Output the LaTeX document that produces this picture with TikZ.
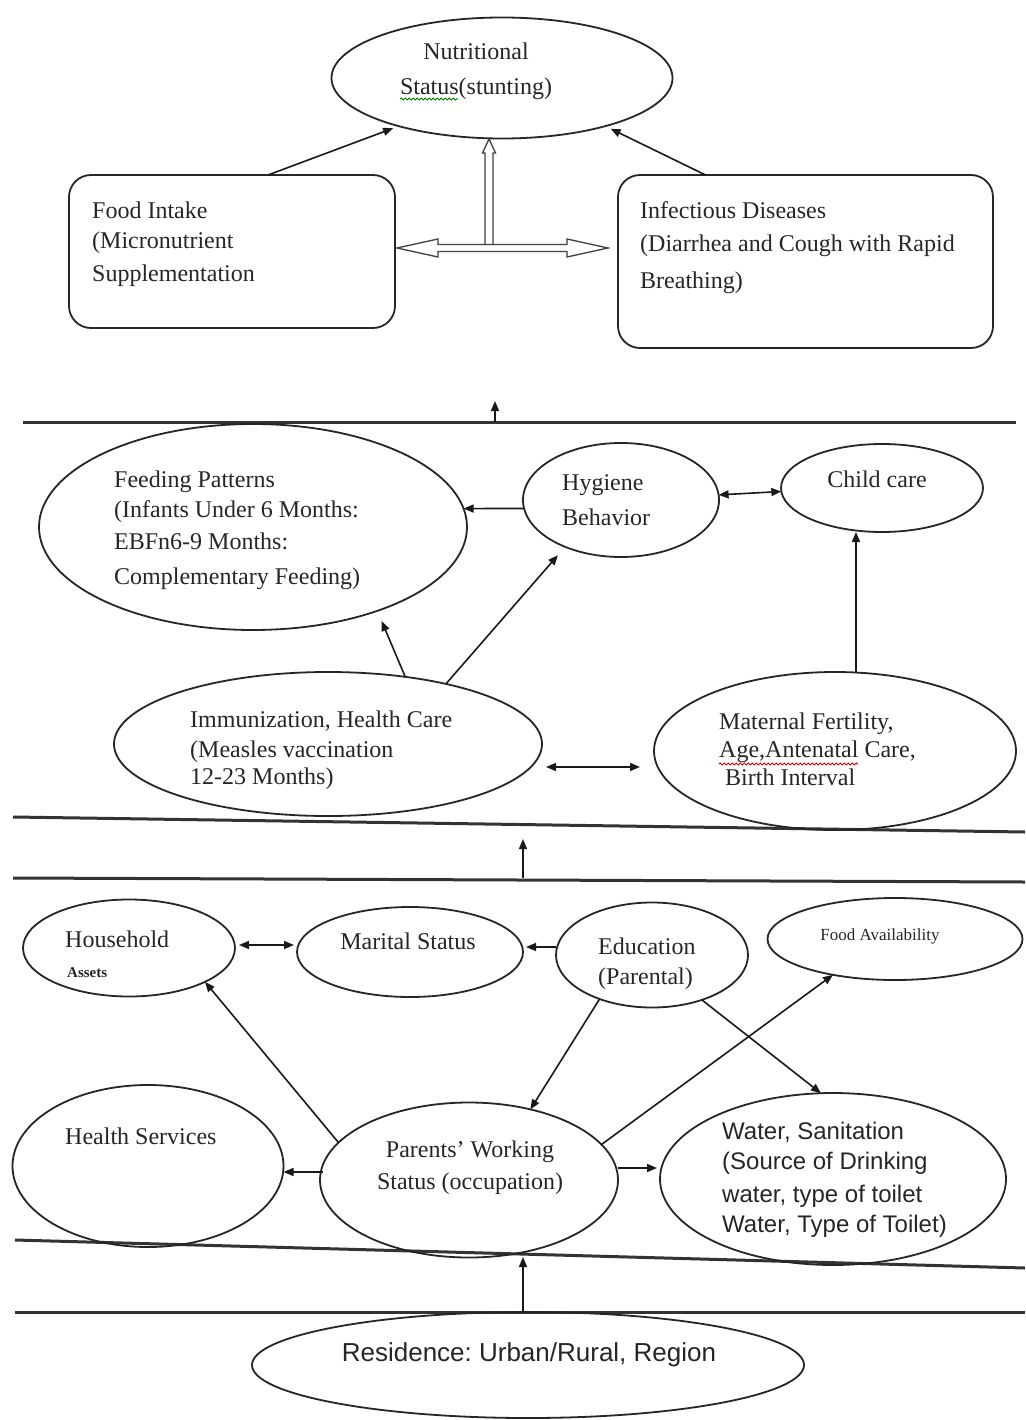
\documentclass[tikz,border=0pt]{standalone}
\usepackage{fontspec}
\setmainfont{Liberation Serif}
\newfontfamily\arialf{Liberation Sans}
\usetikzlibrary{shapes.geometric,arrows.meta,calc,decorations.pathmorphing}
\frenchspacing
\begin{document}
\begin{tikzpicture}[x=1pt,y=-1pt,
  ell/.style={draw=black!85,line width=1.8pt,ellipse,inner sep=0pt,outer sep=0pt},
  rbox/.style={draw=black!85,line width=1.8pt,rectangle,rounded corners=22pt,inner sep=0pt,outer sep=0pt},
  txt/.style={anchor=base west,align=left,inner sep=0pt,text=black!85,font=\fontsize{24}{30}\selectfont},
  ctxt/.style={anchor=base,align=center,inner sep=0pt,text=black!85,font=\fontsize{24}{30}\selectfont},
  arr/.style={-{Triangle[length=10pt,width=8pt]},line width=1.6pt,draw=black!90},
  darr/.style={{Triangle[length=10pt,width=8pt]}-{Triangle[length=10pt,width=8pt]},line width=1.6pt,draw=black!90},
  sepline/.style={line width=3pt,draw=black!80},
  wavy/.style={decorate,decoration={snake,amplitude=1pt,segment length=4pt},line width=1pt},
]
\fill[white] (0,0) rectangle (1025,1420);
\useasboundingbox (0,0) rectangle (1025,1420);

% separator lines
\draw[sepline] (23,422) -- (1016,422);
\draw[sepline] (13,817) -- (1025,832);
\draw[sepline] (13,878) -- (1025,882);
\draw[sepline] (15,1240) -- (1025,1268);
\draw[sepline] (15,1312) -- (1025,1312);

% top level
\node[ell,minimum width=341pt,minimum height=121pt] (nut) at (502,78) {};
\node[rbox,minimum width=326pt,minimum height=153pt] (food) at (232,251.5) {};
\node[rbox,minimum width=375pt,minimum height=173pt] (inf) at (805.5,261.5) {};

% middle level
\node[ell,minimum width=428pt,minimum height=206pt] (feed) at (253,527) {};
\node[ell,minimum width=196pt,minimum height=114pt] (hyg) at (621,500) {};
\node[ell,minimum width=202pt,minimum height=88pt] (child) at (882,488) {};
\node[ell,minimum width=428pt,minimum height=144pt] (imm) at (328,744) {};
\node[ell,minimum width=362pt,minimum height=158pt] (mat) at (835,751) {};

% lower level
\node[ell,minimum width=212pt,minimum height=97pt] (hh) at (129,948) {};
\node[ell,minimum width=226pt,minimum height=90pt] (mar) at (410,952) {};
\node[ell,minimum width=192pt,minimum height=105pt] (edu) at (652,955) {};
\node[ell,minimum width=255pt,minimum height=82pt] (fa) at (895,939) {};
\node[ell,minimum width=271pt,minimum height=162pt] (hs) at (148,1166) {};
\node[ell,minimum width=298pt,minimum height=155pt] (par) at (469,1180) {};
\node[ell,minimum width=346pt,minimum height=172pt] (wat) at (833,1179) {};
\node[ell,minimum width=552pt,minimum height=106pt] (res) at (528,1365) {};

% texts (base = baseline of the last line)
\node[ctxt] (tnut) at (476,95) {Nutritional\\[5pt]Status(stunting)};
\node[txt] (tfood) at (92,282) {Food Intake\\(Micronutrient\\[3pt]Supplementation};
\node[txt] (tinf) at (640,289) {Infectious Diseases\\[3pt](Diarrhea and Cough with Rapid\\[7pt]Breathing)};
\node[txt] (tfeed) at (114,584) {Feeding Patterns\\(Infants Under 6 Months:\\[2pt]EBFn6-9 Months:\\[5pt]Complementary Feeding)};
\node[txt] (thyg) at (562,525) {Hygiene\\[5pt]Behavior};
\node[ctxt] (tchild) at (877,487) {Child care};
\node[txt] (timm) at (190,784) {Immunization, Health Care\\(Measles vaccination\\[-3pt]12-23 Months)};
\node[txt] (tmat) at (719,785) {Maternal Fertility,\\[-2pt]Age,Antenatal Care,\\[-2pt]\hspace*{6pt}Birth Interval};
\node[txt] (thh) at (65,947) {Household};
\node[txt,font=\bfseries\fontsize{15}{18}\selectfont] (tass) at (67,977) {Assets};
\node[ctxt] (tmar) at (408,949) {Marital Status};
\node[txt] (tedu) at (598,984) {Education\\(Parental)};
\node[ctxt,font=\fontsize{17}{20}\selectfont] (tfa) at (880,940) {Food Availability};
\node[txt] (ths) at (65,1144) {Health Services};
\node[ctxt] (tpar) at (470,1189) {Parents’ Working\\[2pt]Status (occupation)};
\node[txt,font=\arialf\fontsize{24}{30}\selectfont] (twat) at (722,1232) {Water, Sanitation\\(Source of Drinking\\[3pt]water, type of toilet\\Water, Type of Toilet)};
\node[ctxt,font=\arialf\fontsize{26}{30}\selectfont] (tres) at (529,1361) {Residence: Urban/Rural, Region};

% spell-check underlines
\draw[wavy,green!50!black] (400,99) -- (458,99);
\draw[wavy,red!85!black] (719,764) -- (858,764);

% top connectors
\draw[arr,shorten >=6pt] ($(food.north)+(36,0)$) -- (nut.205);
\draw[arr,shorten >=6pt] ($(inf.north)+(-100,0)$) -- (nut.335);
% hollow double arrows
\draw[draw=black!75,line width=1.3pt,fill=white]
  (485,244.5) -- (485,153) -- (482.5,153) -- (489,139) -- (495.5,153) -- (493,153) -- (493,244.5);
\draw[draw=black!75,line width=1.3pt,fill=white]
  (397,248) -- (438,239) -- (438,244.5) -- (567,244.5) -- (567,239) -- (608,248)
  -- (567,257) -- (567,251.5) -- (438,251.5) -- (438,257) -- cycle;

% level arrows
\coordinate (l1a) at (495,422); \coordinate (l1b) at (495,401);
\coordinate (l2a) at (523,878); \coordinate (l2b) at (523,839);
\coordinate (l3a) at (523,1312); \coordinate (l3b) at (523,1257);
\draw[arr] (l1a) -- (l1b);
\draw[arr] (l2a) -- (l2b);
\draw[arr] (l3a) -- (l3b);

% middle connectors
\draw[arr] (hyg.185) -- (feed.5);
\draw[darr] (hyg.3) -- (child.182);
\draw[arr] ($(mat.north)+(21,0)$) -- ($(child.south)+(-26,0)$);
\draw[arr,shorten >=11pt] (imm.41) -- (feed.326);
\draw[arr,shorten >=11pt] (imm.27) -- (hyg.220);
\draw[darr] ($(imm.east)+(4,23)$) -- ($(mat.west)+(-14,16)$);

% lower connectors
\draw[darr] ($(hh.east)+(4,-3)$) -- ($(mar.west)+(-3,-7)$);
\draw[arr] ($(edu.west)+(0,-8)$) -- ($(mar.east)+(3,-5)$);
\draw[arr] (par.164) -- (hh.336);
\draw[arr] (edu.220) -- (par.49);
\draw[arr] (par.15) -- (fa.210);
\draw[arr] (edu.318) -- (wat.98);
\draw[arr] ($(par.west)+(3,-8)$) -- ($(hs.east)+(0,6)$);
\draw[arr] ($(par.east)+(0,-12)$) -- ($(wat.west)+(-3,-11)$);
\end{tikzpicture}
\end{document}
